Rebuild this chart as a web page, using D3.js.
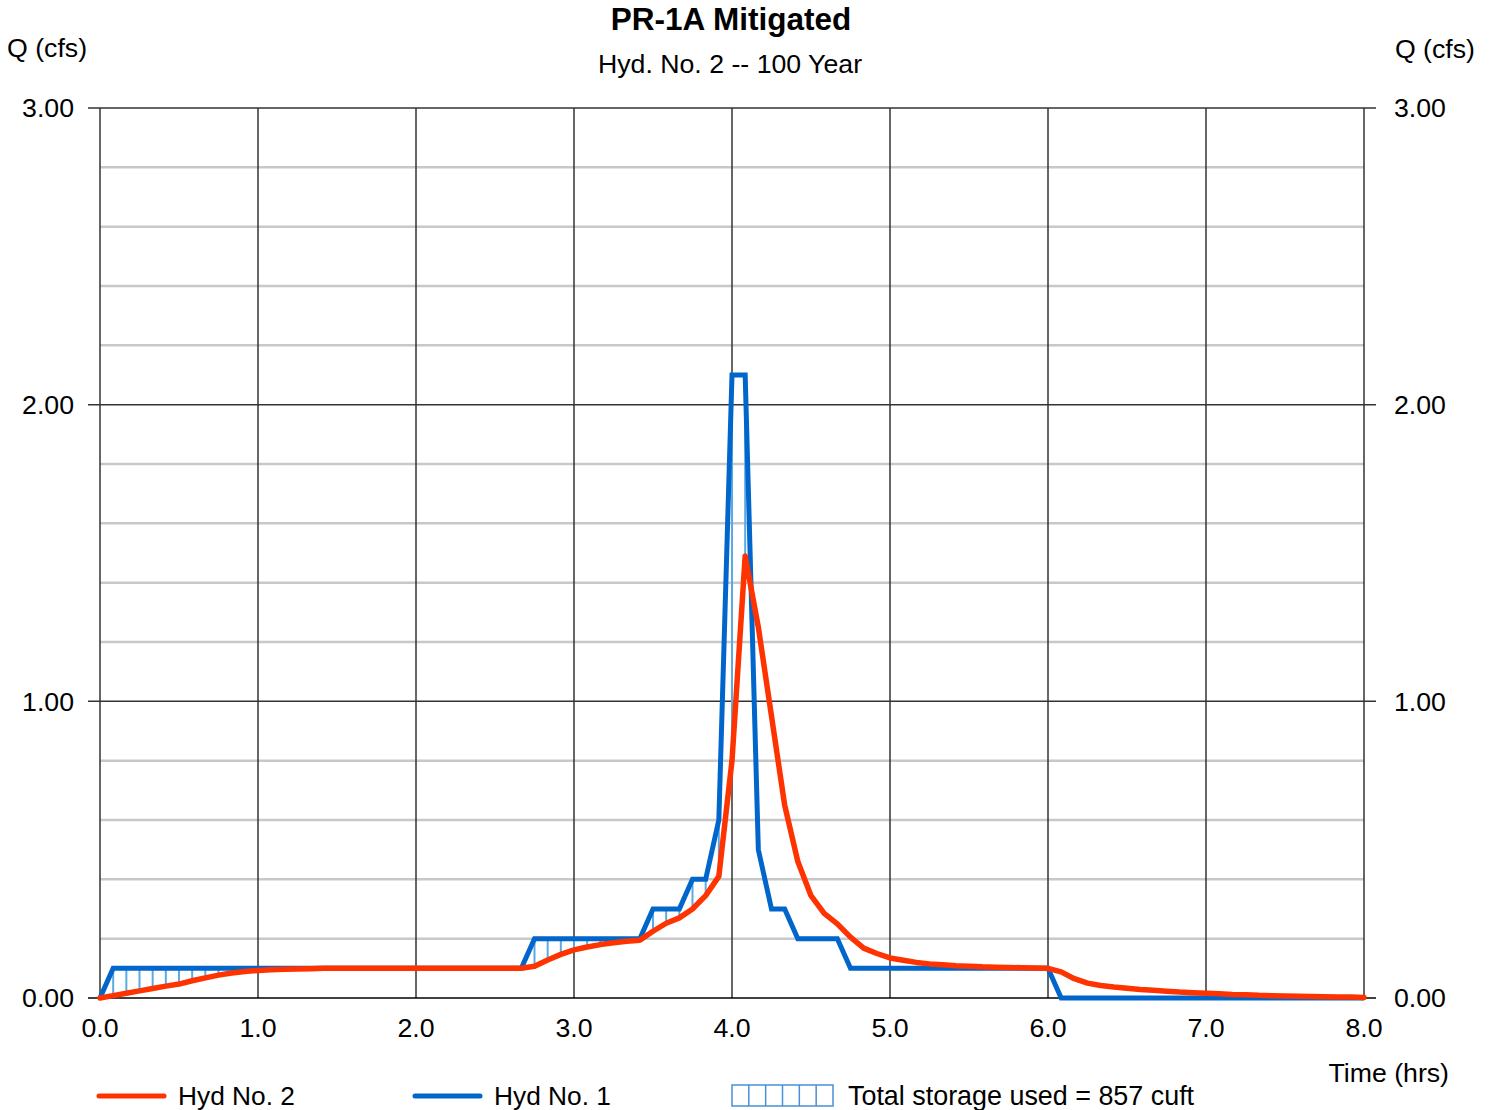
<!DOCTYPE html>
<html>
<head>
<meta charset="utf-8">
<script src="https://cdn.jsdelivr.net/npm/d3@7"></script>
<style>
  body { margin: 0; background: #fff; }
  text { font-family: "Liberation Sans", Arial, sans-serif; fill: #000; font-size: 26.7px; }
</style>
</head>
<body>
<div id="main"></div>
<script>
// chart data (5 minute steps)
const timeMin = [0,5,10,15,20,25,30,35,40,45,50,55,60,65,70,75,80,85,90,95,100,105,110,115,
  120,125,130,135,140,145,150,155,160,165,170,175,180,185,190,195,200,205,210,215,220,225,
  230,235,240,245,250,255,260,265,270,275,280,285,290,295,300,305,310,315,320,325,330,335,
  340,345,350,355,360,365,370,375,380,385,390,395,400,405,410,415,420,425,430,435,440,445,
  450,455,460,465,470,475,480];

// Hyd No. 1 (inflow)
const hyd1 = [0,0.1,0.1,0.1,0.1,0.1,0.1,0.1,0.1,0.1,0.1,0.1,0.1,0.1,0.1,0.1,0.1,0.1,0.1,0.1,
  0.1,0.1,0.1,0.1,0.1,0.1,0.1,0.1,0.1,0.1,0.1,0.1,0.1,
  0.2,0.2,0.2,0.2,0.2,0.2,0.2,0.2,0.2,
  0.3,0.3,0.3,0.4,0.4,0.6,2.1,2.1,0.5,0.3,0.3,0.2,0.2,0.2,0.2,
  0.1,0.1,0.1,0.1,0.1,0.1,0.1,0.1,0.1,0.1,0.1,0.1,0.1,0.1,0.1,0.1,
  0,0,0,0,0,0,0,0,0,0,0,0,0,0,0,0,0,0,0,0,0,0,0,0];

// Hyd No. 2 (outflow)
const hyd2 = [0,0.008,0.016,0.024,0.032,0.040,0.047,0.058,0.068,0.077,0.084,0.089,0.093,0.095,
  0.097,0.098,0.099,
  0.1,0.1,0.1,0.1,0.1,0.1,0.1,0.1,0.1,0.1,0.1,0.1,0.1,0.1,0.1,0.1,
  0.107,0.128,0.147,0.162,0.172,0.18,0.186,0.191,0.195,0.225,0.252,0.27,0.3,0.345,0.41,
  0.8,1.49,1.25,0.95,0.65,0.46,0.345,0.285,0.25,0.205,0.168,0.15,0.135,0.127,0.12,0.115,
  0.112,0.109,0.107,0.105,0.104,0.103,0.102,0.101,0.1,
  0.088,0.065,0.05,0.042,0.037,0.033,0.029,0.026,0.023,0.02,0.018,0.016,0.014,0.012,0.011,
  0.009,0.008,0.007,0.006,0.005,0.004,0.003,0.003,0.002];

const xTicks = [0,1,2,3,4,5,6,7,8];
const yMajor = [0,1,2,3];
const yMinor = [0.2,0.4,0.6,0.8,1.2,1.4,1.6,1.8,2.2,2.4,2.6,2.8];

const title = "PR-1A Mitigated";
const subtitle = "Hyd. No. 2 -- 100 Year";
const storageText = "Total storage used = 857 cuft";

//size
const width = 1491;
const height = 1110;
const plotL = 100, plotR = 1364, plotT = 108, plotB = 998;

const red = "#ff3300";
const blue = "#0066cc";
const hatch = "#5aaae6";

const svg = d3.select('#main')
              .append('svg')
              .attr('width', width)
              .attr('height', height);

const data = timeMin.map((m, i) => ({t: m / 60, q1: hyd1[i], q2: hyd2[i]}));

const xScale = d3.scaleLinear().domain([0, 8]).range([plotL, plotR]);
const yScale = d3.scaleLinear().domain([0, 3]).range([plotB, plotT]);

//minor horizontal grid
svg.append('g').selectAll('line').data(yMinor).enter().append('line')
   .attr('x1', plotL).attr('x2', plotR)
   .attr('y1', d => yScale(d)).attr('y2', d => yScale(d))
   .attr('stroke', '#c8c8c8').attr('stroke-width', 2.5);

//major vertical grid
svg.append('g').selectAll('line').data(xTicks).enter().append('line')
   .attr('x1', d => xScale(d)).attr('x2', d => xScale(d))
   .attr('y1', plotT).attr('y2', plotB)
   .attr('stroke', '#333').attr('stroke-width', 1.5);

//major horizontal grid + outer ticks
svg.append('g').selectAll('line').data(yMajor).enter().append('line')
   .attr('x1', plotL - 12).attr('x2', plotR + 12)
   .attr('y1', d => yScale(d)).attr('y2', d => yScale(d))
   .attr('stroke', d => d === 0 ? '#000' : '#333').attr('stroke-width', 1.5);

//y axes labels
const yFmt = d3.format(".2f");
svg.append('g').selectAll('text').data(yMajor).enter().append('text')
   .attr('x', 74).attr('y', d => yScale(d)).attr('dy', '0.35em')
   .attr('text-anchor', 'end')
   .text(yFmt);
svg.append('g').selectAll('text').data(yMajor).enter().append('text')
   .attr('x', 1394).attr('y', d => yScale(d)).attr('dy', '0.35em')
   .attr('text-anchor', 'start')
   .text(yFmt);

//x axis labels
svg.append('g').selectAll('text').data(xTicks).enter().append('text')
   .attr('x', d => xScale(d)).attr('y', 1037)
   .attr('text-anchor', 'middle')
   .text(d3.format(".1f"));

//titles
svg.append('text').attr('x', 731).attr('y', 30).attr('text-anchor', 'middle')
   .style('font-size', '31.5px').style('font-weight', 'bold').text(title);
svg.append('text').attr('x', 730).attr('y', 73).attr('text-anchor', 'middle')
   .text(subtitle);
svg.append('text').attr('x', 7).attr('y', 57).text("Q (cfs)");
svg.append('text').attr('x', 1475).attr('y', 58).attr('text-anchor', 'end')
   .text("Q (cfs)");
svg.append('text').attr('x', 1449).attr('y', 1082).attr('text-anchor', 'end')
   .text("Time (hrs)");

//storage hatch: vertical lines where inflow exceeds outflow
svg.append('g').selectAll('line').data(data.filter(d => d.q1 > d.q2)).enter().append('line')
   .attr('x1', d => xScale(d.t)).attr('x2', d => xScale(d.t))
   .attr('y1', d => yScale(d.q1)).attr('y2', d => yScale(d.q2))
   .attr('stroke', hatch).attr('stroke-width', 2);

//lines
const line1 = d3.line().x(d => xScale(d.t)).y(d => yScale(d.q1));
const line2 = d3.line().x(d => xScale(d.t)).y(d => yScale(d.q2));

svg.append('path').datum(data).attr('d', line1)
   .attr('fill', 'none').attr('stroke', blue).attr('stroke-width', 5)
   .attr('stroke-linejoin', 'miter');
svg.append('path').datum(data).attr('d', line2)
   .attr('fill', 'none').attr('stroke', red).attr('stroke-width', 5.5)
   .attr('stroke-linejoin', 'round').attr('stroke-linecap', 'round');

//legend
const legend = svg.append('g');
legend.append('line').attr('x1', 99).attr('x2', 164).attr('y1', 1096).attr('y2', 1096)
      .attr('stroke', red).attr('stroke-width', 5).attr('stroke-linecap', 'round');
legend.append('text').attr('x', 178).attr('y', 1105).style('font-size', '26.3px').text("Hyd No. 2");
legend.append('line').attr('x1', 415).attr('x2', 480).attr('y1', 1096).attr('y2', 1096)
      .attr('stroke', blue).attr('stroke-width', 5).attr('stroke-linecap', 'round');
legend.append('text').attr('x', 494).attr('y', 1105).style('font-size', '26.3px').text("Hyd No. 1");
legend.append('rect').attr('x', 732).attr('y', 1085).attr('width', 101).attr('height', 21)
      .attr('fill', 'none').attr('stroke', '#4a8fd6').attr('stroke-width', 1.5);
legend.selectAll('.hl').data(d3.range(1, 6)).enter().append('line')
      .attr('x1', i => 732 + i * 101 / 6).attr('x2', i => 732 + i * 101 / 6)
      .attr('y1', 1085).attr('y2', 1106)
      .attr('stroke', '#4a8fd6').attr('stroke-width', 1.5);
legend.append('text').attr('x', 848).attr('y', 1105).style('font-size', '26.9px').text(storageText);
</script>
</body>
</html>
